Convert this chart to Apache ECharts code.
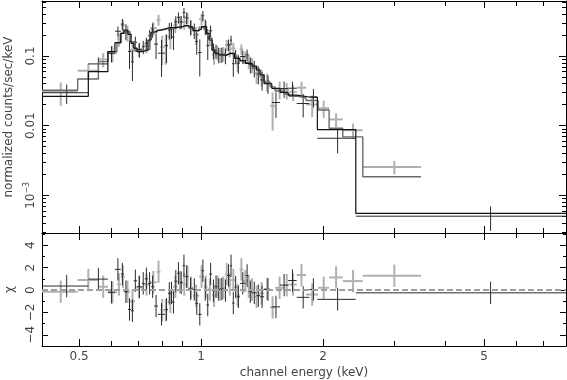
<!DOCTYPE html>
<html><head><meta charset="utf-8">
<script src="https://cdn.jsdelivr.net/npm/echarts@6/dist/echarts.min.js"></script>
<style>html,body{margin:0;padding:0;background:#fff}#c{width:567px;height:380px}</style>
</head><body><div id="c"></div>
<script>
// ---- data set 1 (black) : bin edges (keV), model, data, error, residual (chi)
const BLK_EDGES = [0.405,0.527,0.589,0.613,0.634,0.645,0.660,0.672,0.682,0.695,0.714,0.726,0.740,0.753,0.766,0.783,0.815,0.829,0.841,0.850,0.860,0.873,0.886,0.901,0.914,0.929,0.956,0.969,0.983,1.003,1.018,1.031,1.047,1.065,1.081,1.097,1.114,1.138,1.160,1.179,1.193,1.210,1.225,1.248,1.288,1.311,1.336,1.371,1.399,1.431,1.495,1.567,1.640,1.723,1.851,1.937,2.410,7.96];
const BLK_MODEL = [0.0264,0.0595,0.1153,0.1552,0.2118,0.2361,0.2049,0.1522,0.1300,0.1153,0.1180,0.1219,0.1697,0.2211,0.2308,0.2400,0.2500,0.2549,0.2549,0.2560,0.2580,0.2600,0.2650,0.2723,0.2723,0.2550,0.2308,0.2308,0.2450,0.2634,0.2634,0.2118,0.1697,0.1219,0.1100,0.1034,0.1034,0.1034,0.1093,0.1093,0.1093,0.0927,0.0927,0.0856,0.0786,0.0786,0.0718,0.0630,0.0534,0.0400,0.0344,0.0301,0.0275,0.0258,0.0255,0.0088,0.00055];
const BLK_DATA = [0.0297,0.0770,0.1095,0.2270,0.2875,0.2272,0.1163,0.0818,0.1570,0.1239,0.1357,0.1524,0.1952,0.2377,0.1483,0.1098,0.1419,0.2358,0.2390,0.1856,0.3096,0.3575,0.3087,0.4200,0.3540,0.2614,0.2337,0.1616,0.1121,0.3773,0.2667,0.1408,0.2304,0.1204,0.1183,0.1047,0.1060,0.1021,0.1448,0.1686,0.0776,0.0990,0.0788,0.0984,0.1041,0.0757,0.0673,0.0551,0.0454,0.0406,0.0215,0.0341,0.0345,0.0208,0.0259,0.0066,0.000502];
const BLK_ERR = [0.0092,0.0179,0.0288,0.0388,0.0530,0.0590,0.0512,0.0381,0.0325,0.0288,0.0295,0.0305,0.0424,0.0553,0.0577,0.0600,0.0625,0.0637,0.0637,0.0640,0.0645,0.0650,0.0663,0.0681,0.0681,0.0638,0.0577,0.0577,0.0613,0.0659,0.0659,0.0530,0.0424,0.0305,0.0275,0.0259,0.0259,0.0259,0.0273,0.0273,0.0273,0.0232,0.0232,0.0214,0.0197,0.0197,0.0180,0.0158,0.0134,0.0120,0.0086,0.0090,0.0083,0.0077,0.0077,0.0026,0.000193];
const BLK_CHI = [0.36,0.98,-0.2,1.85,1.43,-0.15,-1.73,-1.85,0.83,0.3,0.6,1.0,0.6,0.3,-1.43,-2.17,-1.73,-0.3,-0.25,-1.1,0.8,1.5,0.66,2.17,1.2,0.1,0.05,-1.2,-2.17,1.73,0.05,-1.34,1.43,-0.05,0.3,0.05,0.1,-0.05,1.3,2.17,-1.16,0.27,-0.6,0.6,1.3,-0.15,-0.25,-0.5,-0.6,0.05,-1.5,0.44,0.85,-0.65,0.05,-0.83,-0.25];

// ---- data set 2 (grey)
const GRY_EDGES = [0.405,0.496,0.558,0.589,0.620,0.634,0.649,0.668,0.687,0.719,0.748,0.777,0.794,0.810,0.827,0.853,0.875,0.900,0.918,0.934,0.956,0.989,1.017,1.038,1.065,1.089,1.108,1.125,1.146,1.169,1.186,1.217,1.245,1.270,1.302,1.321,1.352,1.391,1.431,1.481,1.523,1.603,1.652,1.723,1.817,1.945,2.071,2.238,2.508,3.493];
const GRY_MODEL = [0.0322,0.0468,0.0830,0.1153,0.1552,0.2118,0.2250,0.1600,0.1180,0.1250,0.2150,0.2350,0.2450,0.2500,0.2549,0.2570,0.2620,0.2723,0.2680,0.2500,0.2308,0.2600,0.2400,0.1800,0.1200,0.1050,0.1034,0.1034,0.1060,0.1093,0.1050,0.0927,0.0856,0.0800,0.0786,0.0740,0.0660,0.0540,0.0420,0.0360,0.0315,0.0285,0.0265,0.0250,0.0230,0.0168,0.0092,0.0069,0.00185];
const GRY_DATA = [0.0305,0.0615,0.0892,0.1095,0.1746,0.2753,0.2166,0.1200,0.1251,0.1406,0.2526,0.3308,0.1348,0.1375,0.1886,0.2763,0.3079,0.3063,0.3484,0.2625,0.2020,0.3380,0.2580,0.1823,0.1050,0.1129,0.1047,0.1086,0.1439,0.1230,0.1286,0.0823,0.1252,0.0960,0.0845,0.0749,0.0561,0.0500,0.0433,0.0193,0.0334,0.0323,0.0305,0.0351,0.0202,0.0178,0.0123,0.0086,0.00256];
const GRY_ERR = [0.0113,0.0164,0.0208,0.0288,0.0388,0.0530,0.0563,0.0400,0.0295,0.0313,0.0538,0.0588,0.0613,0.0625,0.0637,0.0643,0.0655,0.0681,0.0670,0.0625,0.0577,0.0650,0.0600,0.0450,0.0300,0.0263,0.0259,0.0259,0.0265,0.0273,0.0263,0.0232,0.0214,0.0200,0.0197,0.0185,0.0165,0.0135,0.0126,0.0108,0.0095,0.0086,0.0080,0.0075,0.0069,0.0050,0.0028,0.0021,0.000555];
const GRY_CHI = [-0.15,0.9,0.3,-0.2,0.5,1.2,-0.15,-1.0,0.24,0.5,0.7,1.63,-1.8,-1.8,-1.04,0.3,0.7,0.5,1.2,0.2,-0.5,1.2,0.3,0.05,-0.5,0.3,0.05,0.2,1.43,0.5,0.9,-0.45,1.85,0.8,0.3,0.05,-0.6,-0.3,0.1,-1.55,0.2,0.44,0.5,1.34,-0.4,0.2,1.13,0.8,1.28];

// ---- axis ticks
const X_MAJOR = [0.5, 1, 2, 5];
const X_MINOR = [0.6, 0.7, 0.8, 0.9, 3, 4, 6, 7];
const Y_MAJOR = [0.001, 0.01, 0.1];
const Y_MINOR = [3e-4,4e-4,5e-4,6e-4,7e-4,8e-4,9e-4,2e-3,3e-3,4e-3,5e-3,6e-3,7e-3,8e-3,9e-3,0.02,0.03,0.04,0.05,0.06,0.07,0.08,0.09,0.2,0.3,0.4,0.5,0.6];
const CHI_MAJOR = [-4, -2, 0, 2, 4];
const CHI_MINOR = [-5, -3, -1, 1, 3, 5];
const X_RANGE = [0.405, 7.96];
const Y_RANGE = [2.88e-4, 0.616];
const CHI_RANGE = [-5, 5.1];

const FONT = 'DejaVu Sans';
const TXT = '#444';
const BLACK = '#2a2a2a', GREY = '#b0b0b0';

function crossRows(edges, vals, errs) {
  return vals.map((v, i) => {
    const lo = edges[i], hi = edges[i + 1];
    return [lo, hi, (lo + hi) / 2, v, v - errs[i], v + errs[i]];
  });
}
function stepRows(edges, model) {
  return edges.map((e, i) => [e, model[Math.min(i, model.length - 1)]]);
}
function crossSeries(rows, xi, yi, color, width, z) {
  return {
    type: 'custom', xAxisIndex: xi, yAxisIndex: yi, z: z, clip: true, silent: true,
    data: rows,
    encode: { x: [0, 1, 2], y: [3, 4, 5] },
    renderItem: function (params, api) {
      const a = api.coord([api.value(0), api.value(3)]);
      const b = api.coord([api.value(1), api.value(3)]);
      const c = api.coord([api.value(2), api.value(4)]);
      const d = api.coord([api.value(2), api.value(5)]);
      const st = { stroke: color, lineWidth: width, fill: null };
      return { type: 'group', children: [
        { type: 'line', shape: { x1: a[0], y1: a[1], x2: b[0], y2: b[1] }, style: st },
        { type: 'line', shape: { x1: c[0], y1: c[1], x2: d[0], y2: d[1] }, style: st }
      ]};
    }
  };
}
const lineStyleAx = { color: '#000', width: 1 };
function xAx(grid, pos, vals, len, showLine, extra) {
  return Object.assign({
    type: 'log', logBase: 10, gridIndex: grid, position: pos, min: X_RANGE[0], max: X_RANGE[1],
    axisLine: { show: showLine, onZero: false, lineStyle: lineStyleAx },
    axisTick: { show: true, inside: true, length: len, customValues: vals, lineStyle: lineStyleAx },
    axisLabel: { show: false, customValues: vals },
    splitLine: { show: false }, minorTick: { show: false }
  }, extra || {});
}
function yAx(grid, pos, type, range, vals, len, showLine, extra) {
  return Object.assign({
    type: type, gridIndex: grid, position: pos, min: range[0], max: range[1],
    axisLine: { show: showLine, onZero: false, lineStyle: lineStyleAx },
    axisTick: { show: true, inside: true, length: len, customValues: vals, lineStyle: lineStyleAx },
    axisLabel: { show: false, customValues: vals },
    splitLine: { show: false }, minorTick: { show: false }
  }, type === 'log' ? { logBase: 10 } : {}, extra || {});
}

const labelFont = { fontFamily: FONT, fontSize: 12, color: TXT };

const option = {
  animation: false,
  backgroundColor: '#fff',
  grid: [
    { left: 42, top: 1, width: 524, height: 232, containLabel: false, outerBoundsMode: 'none' },
    { left: 42, top: 233, width: 524, height: 113, containLabel: false, outerBoundsMode: 'none' }
  ],
  xAxis: [
    xAx(0, 'bottom', X_MAJOR, 7, true),
    xAx(0, 'bottom', X_MINOR, 5, false),
    xAx(0, 'top', X_MAJOR, 7, true),
    xAx(0, 'top', X_MINOR, 5, false),
    xAx(1, 'bottom', X_MAJOR, 7, true, {
      axisLabel: Object.assign({ show: true, customValues: X_MAJOR, margin: 5,
        formatter: v => String(Math.round(v * 10) / 10) }, labelFont),
      name: 'channel energy (keV)', nameLocation: 'middle', nameGap: 21,
      nameTextStyle: labelFont
    }),
    xAx(1, 'bottom', X_MINOR, 5, false),
    xAx(1, 'top', X_MAJOR, 7, true),
    xAx(1, 'top', X_MINOR, 5, false)
  ],
  yAxis: [
    yAx(0, 'left', 'log', Y_RANGE, Y_MAJOR, 7, true, {
      axisLabel: Object.assign({ show: true, customValues: Y_MAJOR, rotate: 90, margin: 5,
        formatter: v => v > 0.05 ? '0.1' : (v > 0.005 ? '0.01' : '{b|10}{s|−3}'),
        rich: { b: { fontFamily: FONT, fontSize: 12, color: TXT, lineHeight: 14, verticalAlign: 'bottom' },
                s: { fontFamily: FONT, fontSize: 8, color: TXT, lineHeight: 8, verticalAlign: 'top' } }
      }, labelFont),
      name: 'normalized counts/sec/keV', nameLocation: 'middle', nameGap: 26,
      nameTextStyle: labelFont
    }),
    yAx(0, 'left', 'log', Y_RANGE, Y_MINOR, 4, false),
    yAx(0, 'right', 'log', Y_RANGE, Y_MAJOR, 7, true),
    yAx(0, 'right', 'log', Y_RANGE, Y_MINOR, 4, false),
    yAx(1, 'left', 'value', CHI_RANGE, CHI_MAJOR, 6, true, {
      axisLabel: Object.assign({ show: true, customValues: CHI_MAJOR, rotate: 90, margin: 5,
        formatter: v => (v < 0 ? '−' + Math.abs(v) : String(v)) }, labelFont),
      name: 'χ', nameLocation: 'middle', nameGap: 26, nameTextStyle: labelFont
    }),
    yAx(1, 'left', 'value', CHI_RANGE, CHI_MINOR, 3, false),
    yAx(1, 'right', 'value', CHI_RANGE, CHI_MAJOR, 6, true),
    yAx(1, 'right', 'value', CHI_RANGE, CHI_MINOR, 3, false)
  ],
  series: [
    crossSeries(crossRows(GRY_EDGES, GRY_DATA, GRY_ERR), 0, 0, GREY, 2, 2),
    crossSeries(crossRows(BLK_EDGES, BLK_DATA, BLK_ERR), 0, 0, BLACK, 1, 3),
    { type: 'line', xAxisIndex: 0, yAxisIndex: 0, step: 'end', showSymbol: false, symbol: 'none', z: 4,
      silent: true, data: stepRows(GRY_EDGES, GRY_MODEL), lineStyle: { color: '#6a6a6a', width: 1.4 } },
    { type: 'line', xAxisIndex: 0, yAxisIndex: 0, step: 'end', showSymbol: false, symbol: 'none', z: 5,
      silent: true, data: stepRows(BLK_EDGES, BLK_MODEL), lineStyle: { color: '#111', width: 1.2 } },
    Object.assign(crossSeries(crossRows(GRY_EDGES, GRY_CHI, GRY_CHI.map(() => 1)), 4, 4, GREY, 2, 2), {
      markLine: { silent: true, symbol: ['none', 'none'], label: { show: false }, animation: false,
        lineStyle: { color: '#a0a0a0', width: 2, type: [6, 3] }, data: [{ yAxis: 0 }] }
    }),
    crossSeries(crossRows(BLK_EDGES, BLK_CHI, BLK_CHI.map(() => 1)), 4, 4, BLACK, 1, 3)
  ]
};
const chart = echarts.init(document.getElementById('c'), null, { renderer: 'canvas' });
chart.setOption(option);
</script></body></html>
